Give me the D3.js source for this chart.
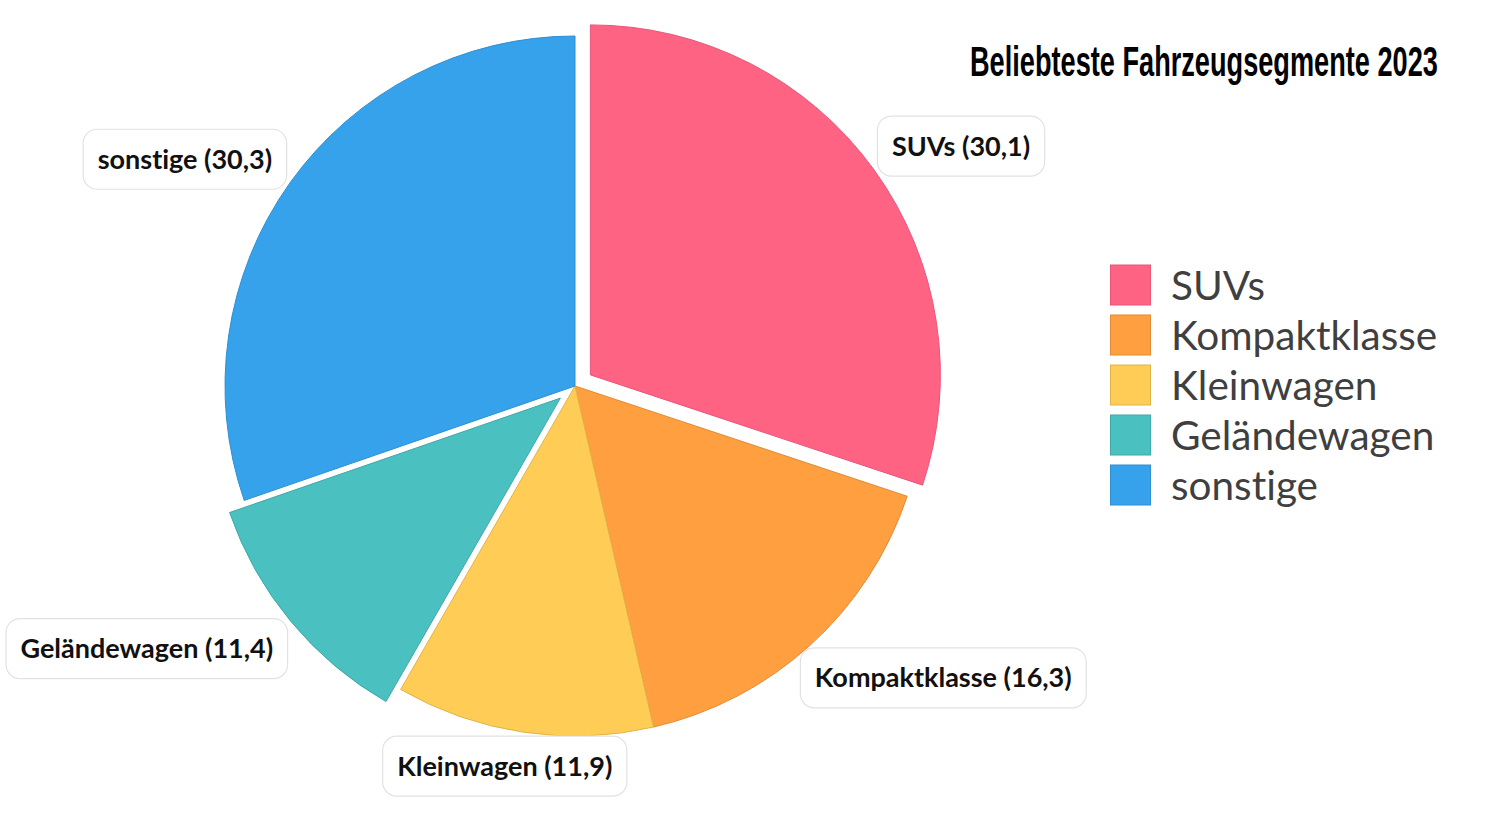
<!DOCTYPE html>
<html>
<head>
<meta charset="utf-8">
<script src="https://cdn.jsdelivr.net/npm/d3@7/dist/d3.min.js"></script>
<style>
  html, body { margin: 0; padding: 0; background: #fff; }
  svg { display: block; }
  text { font-variant-ligatures: none; font-feature-settings: "liga" 0; }
</style>
</head>
<body>
<svg id="chart" width="1490" height="818"></svg>
<script>
// ---- data ----
const categories = ["SUVs", "Kompaktklasse", "Kleinwagen", "Geländewagen", "sonstige"];
const values = [30.1, 16.3, 11.9, 11.4, 30.3];
const valueLabels = ["30,1", "16,3", "11,9", "11,4", "30,3"];
const exploded = [true, false, false, true, false];
const fillColors = ["#ff6384", "#ff9f40", "#ffcd56", "#4bc0c0", "#36a2eb"];
const strokeColors = ["#e8577a", "#e08a35", "#e0b44a", "#3fa8a8", "#2f8fd0"];
const titleText = "Beliebteste Fahrzeugsegmente 2023";

// ---- layout ----
const W = 1490, H = 818;
const cx = 575, cy = 386, R = 350, explodeOffset = 19;
const labelOffset = 4, padX = 14.5, boxH = 60;

const svg = d3.select("#chart");

const data = categories.map((c, i) => ({
  name: c, value: values[i], label: valueLabels[i],
  fill: fillColors[i], stroke: strokeColors[i], exploded: exploded[i]
}));

const pie = d3.pie().value(d => d.value).sort(null);
const arcs = pie(data);
const arc = d3.arc().innerRadius(0).outerRadius(R);

const g = svg.append("g").attr("transform", `translate(${cx},${cy})`);

g.selectAll("path.slice")
  .data(arcs)
  .join("path")
  .attr("class", "slice")
  .attr("d", arc)
  .attr("fill", d => d.data.fill)
  .attr("stroke", d => d.data.stroke)
  .attr("stroke-width", 1)
  .attr("stroke-linejoin", "round")
  .attr("transform", d => {
    if (!d.data.exploded) return null;
    const a = (d.startAngle + d.endAngle) / 2;
    return `translate(${Math.sin(a) * explodeOffset},${-Math.cos(a) * explodeOffset})`;
  });

// ---- data labels (anchor end, align end) ----
const labelG = svg.append("g");
arcs.forEach(d => {
  const a = (d.startAngle + d.endAngle) / 2;
  const vx = Math.sin(a), vy = -Math.cos(a);
  const rr = R + (d.data.exploded ? explodeOffset : 0);
  const px = cx + vx * rr, py = cy + vy * rr;
  const grp = labelG.append("g");
  const t = grp.append("text")
    .attr("font-family", "Lato, 'Noto Sans', sans-serif")
    .attr("font-weight", 700)
    .attr("font-size", 27)
    .attr("fill", "#111")
    .attr("text-anchor", "middle")
    .attr("dominant-baseline", "central")
    .text(`${d.data.name} (${d.data.label})`);
  const tw = t.node().getComputedTextLength();
  const bw = tw + 2 * padX, bh = boxH;
  const vs = 1 / Math.max(Math.abs(vx), Math.abs(vy));
  const lx = px + (bw / 2) * vx * vs + labelOffset * vx;
  const ly = py + (bh / 2) * vy * vs + labelOffset * vy;
  grp.insert("rect", "text")
    .attr("x", lx - bw / 2).attr("y", ly - bh / 2)
    .attr("width", bw).attr("height", bh)
    .attr("rx", 14).attr("ry", 14)
    .attr("fill", "#fff")
    .attr("stroke", "#e2e2e2")
    .attr("stroke-width", 1.2);
  t.attr("x", lx).attr("y", ly - 1);
});

// ---- title ----
const title = svg.append("text")
  .attr("font-family", "'Liberation Sans', Arial, sans-serif")
  .attr("font-weight", 700)
  .attr("font-size", 42)
  .attr("fill", "#000")
  .text(titleText);
const natW = title.node().getComputedTextLength();
title.attr("transform", `translate(970,76) scale(${468 / natW},1)`);

// ---- legend ----
const legendY = d3.scalePoint().domain(categories).range([285, 485]);
const leg = svg.append("g");
const items = leg.selectAll("g").data(data).join("g")
  .attr("transform", d => `translate(1110,${legendY(d.name)})`);
items.append("rect")
  .attr("x", 0.5).attr("y", -20)
  .attr("width", 40).attr("height", 40)
  .attr("fill", d => d.fill)
  .attr("stroke", d => d.stroke)
  .attr("stroke-width", 1);
items.append("text")
  .attr("x", 61).attr("y", -1)
  .attr("font-family", "Lato, 'Noto Sans', sans-serif")
  .attr("font-size", 40.5)
  .attr("fill", "#3f3f3f")
  .attr("dominant-baseline", "central")
  .text(d => d.name);
</script>
</body>
</html>
